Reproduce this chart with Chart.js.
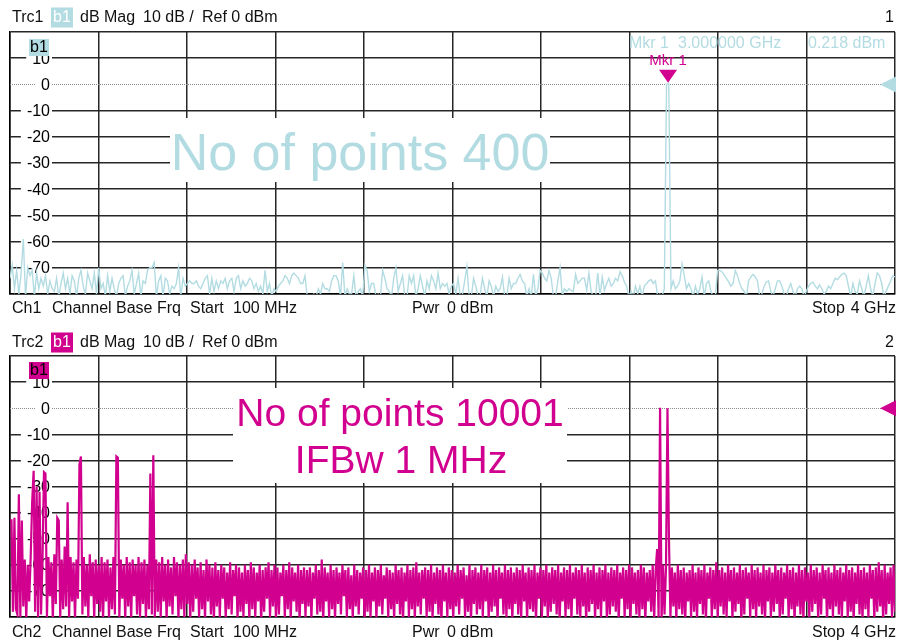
<!DOCTYPE html>
<html><head><meta charset="utf-8">
<script src="https://cdn.jsdelivr.net/npm/chart.js@4.4.1/dist/chart.umd.min.js"></script>
<style>
html,body{margin:0;padding:0;background:#fff;width:898px;height:642px;overflow:hidden}
canvas{position:absolute;left:0}
#c1{top:0;width:898px;height:322px}
#c2{top:322px;width:898px;height:320px}
</style></head><body>
<canvas id="c1" width="898" height="322"></canvas>
<canvas id="c2" width="898" height="320"></canvas>
<script>
// ---------- data ----------
const startMHz = 100, stopMHz = 4000;
const yMin = -80, yMax = 20;
const yTickLabels = [10, 0, -10, -20, -30, -40, -50, -60, -70];
const yGridValues = [20, 10, 0, -10, -20, -30, -40, -50, -60, -70, -80];
const xGridValues = [100, 490, 880, 1270, 1660, 2050, 2440, 2830, 3220, 3610, 4000];

// Trc1: 400-point sweep (dBm)
const trace1Values = [
-74,-69,-78,-71,-80,-72,-59,-81,-70,-73,-71,-81,-72,-78,-74,-77,-73,-80,-75,-78,
-79,-74,-81,-76,-72,-78,-74,-80,-73,-75,-81,-74,-71,-77,-80,-72,-75,-78,-72,-80,
-70,-78,-76,-81,-73,-79,-74,-78,-81,-76,-74,-73,-81,-77,-75,-71,-80,-76,-72,-81,
-75,-76,-71,-70,-70,-68,-81,-75,-73,-81,-74,-75,-80,-77,-78,-76,-70,-81,-74,-77,
-76,-75,-76,-76,-75,-77,-78,-76,-74,-73,-80,-74,-79,-75,-78,-75,-76,-74,-78,-75,
-74,-79,-74,-73,-78,-75,-77,-76,-74,-75,-78,-76,-79,-77,-80,-71,-79,-76,-81,-78,
-79,-77,-76,-75,-73,-74,-76,-73,-72,-73,-74,-76,-76,-73,-81,-81,-81,-80,-81,-78,
-80,-76,-78,-78,-79,-75,-73,-73,-75,-81,-68,-81,-78,-80,-80,-73,-81,-79,-78,-81,
-69,-71,-79,-76,-76,-81,-80,-81,-71,-74,-78,-79,-81,-74,-70,-79,-76,-73,-81,-81,
-73,-76,-73,-81,-78,-73,-77,-81,-75,-78,-73,-75,-78,-72,-78,-76,-77,-76,-80,-77,
-76,-80,-74,-81,-80,-75,-69.5,-81,-81,-74,-77,-81,-80,-74,-78,-81,-75,-77,-81,-77,
-79,-78,-73.5,-81,-81,-74,-78,-76,-76,-74,-72.5,-75,-76,-81,-78,-81,-72.5,-81,-78,-71,
-72,-74,-75,-71,-74,-81,-81,-75,-70,-81,-78,-79,-78,-78.6,-79,-72.5,-76,-75,-74,-74,
-78.6,-72,-79,-81,-81,-72,-81,-73.5,-78.6,-76,-74,-77,-76,-74,-75,-71.5,-73,-75.4,-77,-81,
-79,-81,-77,-80,-77,-81,-77,-76,-75,-74.5,-76,-75,-81,-80,-81,-78,0.1,0.3,-78,-75,
-78,-77,-75,-68.5,-73,-78,-76,-78,-81,-77,-80,-78,-73.5,-81,-76,-75,-79,-81,-81,-71,
-71,-71.5,-72.8,-74,-75.4,-77,-76,-71,-73,-76,-78,-79,-81,-75,-73.5,-72.5,-73.5,-75,-81,-80,
-77,-75.4,-75,-79,-81,-78,-75,-75,-77,-80,-81,-78,-76,-79,-81,-78,-77,-78,-81,-79,
-77,-76,-75.4,-77,-78,-76.5,-78,-80,-79,-77,-78,-76,-74,-74.5,-73.5,-72.5,-72,-73,-77,-81,
-76,-79,-80,-75,-78,-81,-77,-73,-78,-81,-76,-72,-73,-76,-81,-79,-77,-75,-73,-73.5
];

// Trc2: 10001-point sweep, shown here as its per-column extremes (dBm)
const trace2Values = [
-43,-43,-78,-42,-77,-79,-33,-80,-43,-76,-58,-81,-60,-74,-57,-36,-24,-78,-30,-80,
-32,-79,-58,-24.5,-25,-80,-57,-72,-59,-81,-56,-75,-42,-43,-80,-58,-77,-53,-76,-36,
-80,-57,-74,-59,-81,-58,-73,-21.5,-18.5,-79,-57,-76,-60,-80,-56,-72,-59,-81,-58,-75,
-60,-78,-57,-81,-59,-74,-58,-80,-61,-77,-57,-79,-18.5,-19,-80,-58,-73,-60,-81,-57,
-76,-59,-81,-58,-72,-60,-79,-57,-80,-59,-75,-58,-81,-60,-77,-25,-79,-18,-80,-58,
-78,-59,-80,-57,-74,-60,-81,-58,-76,-61,-79,-57,-72,-59,-81,-60,-77,-58,-80,-56,
-75,-59,-81,-60,-78,-58,-73,-61,-80,-59,-77,-62,-81,-58,-74,-60,-79,-61,-82,-59,
-76,-62,-80,-60,-73,-61,-81,-63,-77,-59,-79,-62,-72,-60,-81,-61,-78,-63,-80,-60,
-75,-62,-81,-59,-77,-61,-80,-63,-74,-60,-82,-62,-78,-61,-73,-59,-80,-62,-76,-60,
-81,-61,-79,-63,-72,-60,-80,-62,-77,-59,-81,-61,-74,-63,-78,-60,-82,-62,-75,-61,
-80,-62,-76,-61,-81,-63,-73,-60,-79,-62,-78,-58,-82,-61,-74,-63,-80,-60,-77,-62,
-81,-61,-75,-63,-79,-60,-72,-62,-80,-61,-77,-64,-81,-60,-76,-62,-79,-63,-73,-61,
-82,-62,-78,-60,-80,-63,-74,-61,-81,-62,-76,-60,-79,-64,-73,-61,-80,-62,-77,-63,
-81,-60,-75,-62,-79,-61,-82,-63,-74,-60,-80,-62,-77,-61,-81,-59,-76,-63,-79,-62,
-73,-61,-80,-62,-78,-60,-81,-63,-75,-61,-79,-62,-82,-60,-74,-63,-80,-61,-77,-62,
-81,-63,-76,-60,-79,-62,-73,-61,-80,-64,-78,-60,-82,-62,-75,-61,-79,-63,-77,-60,
-80,-62,-74,-61,-81,-63,-78,-60,-76,-62,-82,-61,-73,-63,-79,-60,-80,-62,-77,-61,
-81,-63,-75,-61,-79,-62,-80,-60,-74,-63,-81,-61,-77,-62,-78,-60,-82,-63,-73,-61,
-80,-62,-76,-60,-81,-63,-78,-61,-75,-62,-79,-60,-82,-63,-74,-61,-80,-62,-77,-60,
-81,-63,-73,-61,-79,-62,-80,-60,-76,-63,-82,-61,-78,-62,-75,-60,-81,-63,-77,-61,
-80,-62,-74,-60,-81,-63,-79,-61,-76,-62,-78,-60,-82,-63,-73,-61,-80,-62,-77,-60,
-81,-61,-75,-63,-79,-62,-80,-60,-77,-61,-82,-63,-74,-62,-78,-60,-81,-62,-54,-80,
0.2,-81,-60,-79,-61,0,-50,-80,-61,-76,-63,-81,-60,-77,-62,-79,-61,-82,-63,-74,
-62,-80,-60,-78,-63,-81,-61,-75,-62,-79,-60,-82,-63,-73,-61,-80,-62,-77,-59,-81,
-62,-76,-61,-79,-63,-80,-60,-74,-62,-81,-61,-78,-63,-75,-60,-82,-62,-79,-61,-73,
-63,-80,-60,-77,-62,-81,-61,-76,-63,-79,-60,-82,-62,-74,-61,-80,-63,-78,-60,-75,
-62,-81,-61,-79,-63,-73,-60,-80,-62,-77,-61,-82,-63,-76,-60,-79,-62,-81,-61,-74,
-63,-80,-60,-78,-62,-75,-61,-81,-63,-79,-60,-73,-62,-82,-61,-77,-63,-80,-60,-76,
-62,-79,-61,-81,-63,-74,-60,-80,-62,-78,-61,-82,-63,-75,-60,-79,-62,-81,-61,-77,
-63,-80,-60,-73,-62,-81,-61,-78,-59,-76,-62,-82,-60,-79,-63,-75,-61,-80,-60,-78
];

const markerFreqMHz = 3000, markerLevel = 0.218;

// ---------- styling ----------
const FONT = '"Liberation Sans", Arial, Helvetica, sans-serif';
const BLUE = '#b3dce2';
const MAGENTA = '#d1008e';

function sweep(values) {
  const n = values.length;
  return values.map((v, i) => ({ x: startMHz + i * (stopMHz - startMHz) / (n - 1), y: v }));
}

function txt(ctx, s, x, y, size, color, align) {
  ctx.font = size + 'px ' + FONT;
  ctx.fillStyle = color;
  ctx.textAlign = align || 'left';
  ctx.textBaseline = 'middle';
  ctx.fillText(s, x, y);
}

const overlay = {
  id: 'overlay',
  beforeDatasetsDraw(chart, args, o) {
    const ctx = chart.ctx, ys = chart.scales.y, a = chart.chartArea;
    ctx.save();
    const y0 = Math.round(ys.getPixelForValue(0)) + 0.5;
    ctx.strokeStyle = '#8c8c8c'; ctx.lineWidth = 1; ctx.setLineDash([1, 1]);
    ctx.beginPath(); ctx.moveTo(a.left, y0); ctx.lineTo(a.right, y0); ctx.stroke();
    ctx.setLineDash([]);
    ctx.font = '16px ' + FONT;
    yTickLabels.forEach(v => {
      const y = ys.getPixelForValue(v), s = String(v);
      const w = ctx.measureText(s).width;
      ctx.fillStyle = '#fff';
      ctx.fillRect(50 - w - 6, y - 2, w + 8, 4);
      txt(ctx, s, 50, y + 1, 16, '#000', 'right');
    });
    ctx.fillStyle = '#fff';
    ctx.fillRect(o.box.x, o.box.y, o.box.w, o.box.h);
    o.big.forEach(b => {
      ctx.font = b.size + 'px ' + FONT; ctx.fillStyle = o.color;
      ctx.textAlign = 'center'; ctx.textBaseline = 'alphabetic';
      ctx.fillText(b.text, b.x, b.y);
    });
    ctx.restore();
  },
  afterDraw(chart, args, o) {
    const ctx = chart.ctx, ys = chart.scales.y, xs = chart.scales.x, a = chart.chartArea;
    ctx.save();
    const hy = o.headerY;
    txt(ctx, o.trc, 12, hy, 16, '#111');
    ctx.fillStyle = o.color; ctx.fillRect(51, hy - 10, 22, 20);
    txt(ctx, 'b1', 62, hy, 16, '#fff', 'center');
    txt(ctx, 'dB Mag', 80, hy, 16, '#111');
    txt(ctx, '10 dB /', 143, hy, 16, '#111');
    txt(ctx, 'Ref 0 dBm', 202, hy, 16, '#111');
    txt(ctx, o.num, 894, hy, 16, '#111', 'right');
    const fy = o.footerY;
    txt(ctx, o.ch, 12, fy, 16, '#111');
    txt(ctx, 'Channel Base Frq', 52, fy, 16, '#111');
    txt(ctx, 'Start', 190, fy, 16, '#111');
    txt(ctx, '100 MHz', 233, fy, 16, '#111');
    txt(ctx, 'Pwr', 412, fy, 16, '#111');
    txt(ctx, '0 dBm', 447, fy, 16, '#111');
    txt(ctx, 'Stop', 812, fy, 16, '#111');
    txt(ctx, '4 GHz', 896, fy, 16, '#111', 'right');
    ctx.fillStyle = o.color; ctx.fillRect(29, a.top + o.b1dy, 20, 17);
    txt(ctx, 'b1', 39, a.top + o.b1dy + 9, 16, '#000', 'center');
    const yr = ys.getPixelForValue(0);
    ctx.fillStyle = o.color;
    ctx.beginPath(); ctx.moveTo(880, yr); ctx.lineTo(896, yr - 8); ctx.lineTo(896, yr + 8); ctx.closePath(); ctx.fill();
    if (o.marker) {
      const xm = xs.getPixelForValue(markerFreqMHz), ym = ys.getPixelForValue(markerLevel);
      ctx.fillStyle = MAGENTA;
      ctx.beginPath(); ctx.moveTo(xm - 9, ym - 14); ctx.lineTo(xm + 9, ym - 14); ctx.lineTo(xm, ym - 1); ctx.closePath(); ctx.fill();
      txt(ctx, 'Mkr 1', xm, ym - 23, 15, MAGENTA, 'center');
      txt(ctx, 'Mkr 1', 629, 44, 16, BLUE);
      txt(ctx, (markerFreqMHz / 1000).toFixed(6) + ' GHz', 678, 44, 16, BLUE);
      txt(ctx, markerLevel.toFixed(3) + ' dBm', 808, 44, 16, BLUE);
    }
    ctx.restore();
  }
};

function makeChart(id, values, color, lw, pad, ov) {
  return new Chart(document.getElementById(id), {
    type: 'line',
    data: { datasets: [{ data: sweep(values), borderColor: color, borderWidth: lw, pointRadius: 0, tension: 0, clip: 0, fill: false, borderJoinStyle: 'miter' }] },
    options: {
      responsive: false, animation: false, events: [],
      layout: { padding: pad },
      plugins: { legend: { display: false }, tooltip: { enabled: false }, overlay: ov },
      scales: {
        x: {
          type: 'linear', min: startMHz, max: stopMHz,
          afterBuildTicks: s => { s.ticks = xGridValues.map(v => ({ value: v })); },
          ticks: { display: false },
          grid: { drawTicks: false, color: '#262626', lineWidth: 1.5 },
          border: { display: true, color: '#000', width: 1.5 }
        },
        y: {
          type: 'linear', min: yMin, max: yMax,
          afterBuildTicks: s => { s.ticks = yGridValues.map(v => ({ value: v })); },
          ticks: { display: false },
          grid: { drawTicks: false, lineWidth: 1.5, color: c => (c.tick && c.tick.value === 0) ? 'rgba(0,0,0,0)' : '#262626' },
          border: { display: true, color: '#000', width: 1.5 }
        }
      }
    },
    plugins: [overlay]
  });
}

makeChart('c1', trace1Values, BLUE, 1.4, { left: 10, right: 3, top: 32, bottom: 28 }, {
  color: BLUE, trc: 'Trc1', ch: 'Ch1', num: '1', headerY: 17.5, footerY: 308.5, b1dy: 7, marker: true,
  box: { x: 170, y: 118, w: 380, h: 64 },
  big: [{ text: 'No of points 400', x: 360, y: 170, size: 52 }]
});
makeChart('c2', trace2Values, MAGENTA, 2.2, { left: 10, right: 3, top: 34, bottom: 25 }, {
  color: MAGENTA, trc: 'Trc2', ch: 'Ch2', num: '2', headerY: 20.5, footerY: 311, b1dy: 6, marker: false,
  box: { x: 233, y: 66, w: 334, h: 95 },
  big: [{ text: 'No of points 10001', x: 400, y: 104, size: 39 }, { text: 'IFBw 1 MHz', x: 401, y: 151, size: 39 }]
});
</script>
</body></html>
